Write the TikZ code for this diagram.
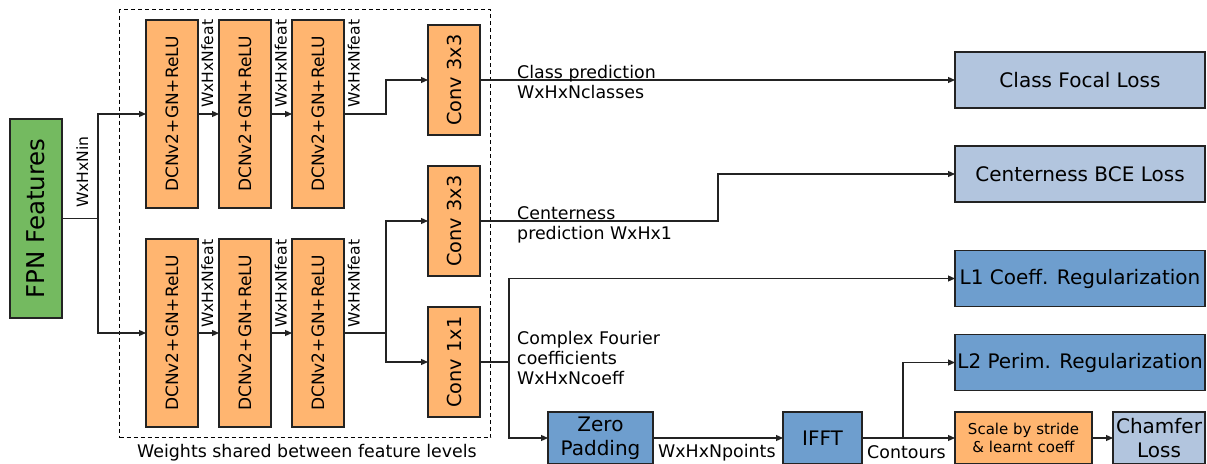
\documentclass[tikz,border=0pt]{standalone}
\usepackage{fontspec}
\setmainfont{DejaVu Sans}
\usetikzlibrary{arrows.meta,calc}
\definecolor{fpngreen}{RGB}{116,186,96}
\definecolor{convorange}{RGB}{255,181,112}
\definecolor{losslight}{RGB}{178,197,222}
\definecolor{lossmid}{RGB}{110,158,206}
\definecolor{edge}{RGB}{35,35,35}
\newcommand{\fsz}[2]{\fontsize{#1}{#2}\selectfont}
\tikzset{
  blk/.style={draw=edge, line width=1.2pt, inner sep=0pt, outer sep=0pt, align=center},
  fpnbox/.style={blk, fill=fpngreen, minimum width=52pt, minimum height=199pt, font=\fsz{24.5}{28}},
  dcnbox/.style={blk, fill=convorange, minimum width=52pt, minimum height=188pt, font=\fsz{17}{20}},
  convbox/.style={blk, fill=convorange, minimum width=52pt, minimum height=110pt, font=\fsz{19.3}{22}},
  lossbox/.style={blk, minimum width=250pt, minimum height=56pt, font=\fsz{20}{24}},
  flowbox/.style={blk, minimum height=52pt, font=\fsz{20}{24}},
  dimlbl/.style={rotate=90, anchor=base west, inner sep=0pt, font=\fsz{15.6}{18}},
  txtlbl/.style={anchor=base west, inner sep=0pt, font=\fsz{17.4}{20}},
  link/.style={draw=edge, line width=1.2pt},
  arr/.style={link, -{Triangle[length=7pt,width=6pt]}},
}
\begin{document}
\begin{tikzpicture}[x=1pt, y=-1pt]
  \useasboundingbox (0,0) rectangle (1207,463);
  \fill[white] (0,0) rectangle (1207,463);
  \clip (0,0) rectangle (1207,463);

  % shared-weight head region
  \node[draw=black, line width=1.1pt, dash pattern=on 4pt off 3pt, inner sep=0pt,
        minimum width=371pt, minimum height=428pt, anchor=north west] (shared) at (119,9) {};
  \node[anchor=base, inner sep=0pt, font=\fsz{17.4}{20}] (sharedcap) at (307,457)
        {Weights shared between feature levels};

  % input features
  \node[fpnbox] (fpn) at (36,218.5) {\rotatebox{90}{FPN Features}};

  % classification / centerness tower
  \node[dcnbox] (d1) at (172,114) {\rotatebox{90}{DCNv2+GN+ReLU}};
  \node[dcnbox] (d2) at (245,114) {\rotatebox{90}{DCNv2+GN+ReLU}};
  \node[dcnbox] (d3) at (318,114) {\rotatebox{90}{DCNv2+GN+ReLU}};
  % regression tower
  \node[dcnbox] (d4) at (172,333) {\rotatebox{90}{DCNv2+GN+ReLU}};
  \node[dcnbox] (d5) at (245,333) {\rotatebox{90}{DCNv2+GN+ReLU}};
  \node[dcnbox] (d6) at (318,333) {\rotatebox{90}{DCNv2+GN+ReLU}};

  % prediction convolutions
  \node[convbox] (c1) at (454,80)  {\rotatebox{90}{Conv 3x3}};
  \node[convbox] (c2) at (454,221) {\rotatebox{90}{Conv 3x3}};
  \node[convbox] (c3) at (454,362) {\rotatebox{90}{Conv 1x1}};

  % losses
  \node[lossbox, fill=losslight] (cfl) at (1080,80)    {Class Focal Loss};
  \node[lossbox, fill=losslight] (bce) at (1080,174)   {Centerness BCE Loss};
  \node[lossbox, fill=lossmid]   (l1)  at (1080,278.5) {L1 Coeff. Regularization};
  \node[lossbox, fill=lossmid]   (l2)  at (1080,362.5) {L2 Perim. Regularization};

  % contour decoding
  \node[flowbox, fill=lossmid, minimum width=105pt] (zp) at (600.5,438) {Zero\\Padding};
  \node[flowbox, fill=lossmid, minimum width=79pt] (ifft) at (822.5,438) {IFFT};
  \node[flowbox, fill=convorange, minimum width=137pt, font=\fsz{15}{18}] (scale) at (1023.5,438)
        {Scale by stride\\\& learnt coeff};
  \node[flowbox, fill=losslight, minimum width=92pt] (chamf) at (1159,438) {Chamfer\\Loss};

  % input split
  \draw[link] (fpn.east) -- ++(36,0) coordinate (split);
  \draw[arr] (split) |- (d1.west);
  \draw[arr] (split) |- (d4.west);
  \node[dimlbl] (nin) at (88,208) {WxHxNin};

  % towers
  \draw[arr] (d1.east) -- (d2.west);
  \draw[arr] (d2.east) -- (d3.west);
  \draw[arr] (d4.east) -- (d5.west);
  \draw[arr] (d5.east) -- (d6.west);
  \node[dimlbl] (f1) at (213,108) {WxHxNfeat};
  \node[dimlbl] (f2) at (286.5,108) {WxHxNfeat};
  \node[dimlbl] (f3) at (359.5,108) {WxHxNfeat};
  \node[dimlbl] (f4) at (213,328) {WxHxNfeat};
  \node[dimlbl] (f5) at (286.5,328) {WxHxNfeat};
  \node[dimlbl] (f6) at (359.5,328) {WxHxNfeat};

  \draw[arr] (d3.east) -- ++(42,0) |- (c1.west);
  \draw[link] (d6.east) -- ++(42,0) coordinate (j2);
  \draw[arr] (j2) |- (c2.west);
  \draw[arr] (j2) |- (c3.west);

  % head outputs
  \draw[arr] (c1.east) -- (cfl.west);
  \node[txtlbl] (lcls) at (517,78.3)
    {\begin{tabular}[t]{@{}l@{}}Class prediction\\WxHxNclasses\end{tabular}};

  \draw[arr] (c2.east) -- ++(238,0) |- (bce.west);
  \node[txtlbl] (lctr) at (517,219.7)
    {\begin{tabular}[t]{@{}l@{}}Centerness\\prediction WxHx1\end{tabular}};

  \draw[link] (c3.east) -- ++(29,0) coordinate (j3);
  \draw[arr] (j3) |- (l1.west);
  \draw[arr] (j3) |- (zp.west);
  \node[txtlbl] (lfou) at (517,344)
    {\begin{tabular}[t]{@{}l@{}}Complex Fourier\\coefficients\\WxHxNcoeff\end{tabular}};

  % decoding chain
  \draw[arr] (zp.east) -- (ifft.west);
  \node[txtlbl] (lpts) at (658,457) {WxHxNpoints};
  \draw[arr] (ifft.east) -- ++(41,0) coordinate (j4) -- (scale.west);
  \draw[arr] (j4) |- (l2.west);
  \node[txtlbl] (lcon) at (867,458) {Contours};
  \draw[arr] (scale.east) -- (chamf.west);
\end{tikzpicture}
\end{document}
